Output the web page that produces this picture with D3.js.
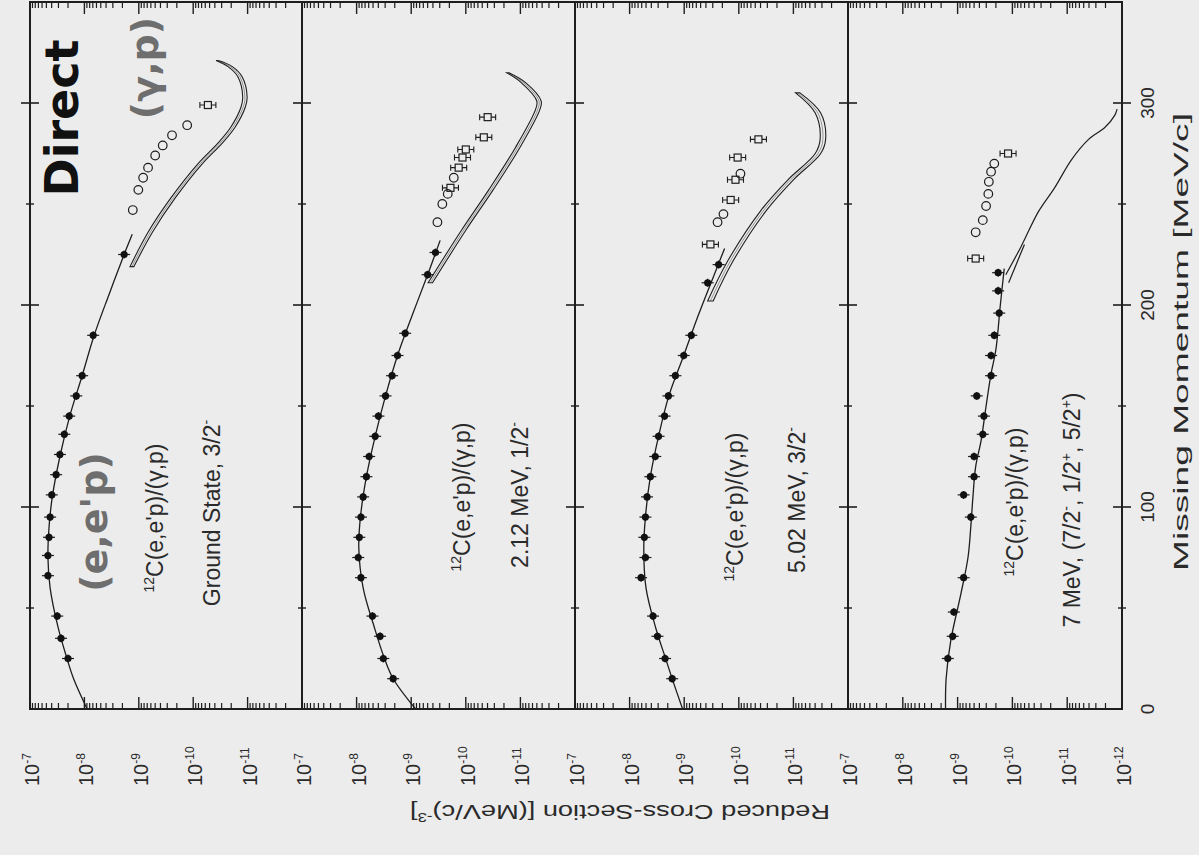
<!DOCTYPE html>
<html>
<head>
<meta charset="utf-8">
<script src="https://cdn.jsdelivr.net/npm/d3@7"></script>
<style>
    html, body { margin: 0; padding: 0; background: #ececec; }
    svg { display: block; }
    text { font-family: "Liberation Sans", Arial, sans-serif; fill: #2a2a2a; }
</style>
</head>
<body>
<div id="chart"></div>
<script>
// momentum axis (vertical in the picture)
const momentumTicks = [0, 100, 200, 300];
const momentumMinor = [50, 150, 250];

// cross-section decades (horizontal, one set per panel)
const decadeValues = [1e-7, 1e-8, 1e-9, 1e-10, 1e-11, 1e-12];
const decadeExps = ["-7", "-8", "-9", "-10", "-11", "-12"];

// panel captions
const reactionLabel = "C(e,e'p)/(γ,p)";
const stateLabels = [
    [["Ground State, 3/2", 0], ["-", 1]],
    [["2.12 MeV, 1/2", 0], ["-", 1]],
    [["5.02 MeV, 3/2", 0], ["-", 1]],
    [["7 MeV, (7/2", 0], ["-", 1], [", 1/2", 0], ["+", 1], [", 5/2", 0], ["+", 1], [")", 0]]
];

// (e,e'p) data: [missing momentum, reduced cross-section]
const eep1 = [[25, 2.0e-8], [35, 2.69e-8], [46, 3.16e-8], [66, 4.68e-8], [76, 4.68e-8], [85, 4.47e-8],
    [95, 4.27e-8], [106, 3.98e-8], [116, 3.31e-8], [126, 2.82e-8], [136, 2.34e-8], [145, 1.9e-8],
    [155, 1.41e-8], [165, 1.10e-8], [185, 6.9e-9], [225, 1.86e-9]];
const eep2 = [[15, 2.14e-9], [25, 3.24e-9], [36, 3.72e-9], [46, 5.13e-9], [65, 8.32e-9], [75, 9.33e-9],
    [85, 8.91e-9], [95, 8.32e-9], [105, 7.59e-9], [115, 6.61e-9], [125, 5.89e-9], [135, 4.57e-9],
    [145, 3.98e-9], [155, 2.95e-9], [165, 2.24e-9], [175, 1.78e-9], [186, 1.29e-9], [215, 5.0e-10], [226, 3.59e-10]];
const eep3 = [[15, 1.66e-9], [25, 2.24e-9], [36, 3.09e-9], [46, 3.72e-9], [65, 6.17e-9], [75, 5.13e-9],
    [85, 5.37e-9], [95, 5.13e-9], [105, 4.79e-9], [115, 4.17e-9], [125, 3.39e-9], [135, 2.95e-9],
    [145, 2.29e-9], [155, 1.95e-9], [165, 1.45e-9], [175, 1.02e-9], [185, 7.41e-10], [211, 3.72e-10], [220, 2.34e-10]];
const eep4 = [[25, 1.51e-9], [36, 1.23e-9], [48, 1.17e-9], [65, 7.76e-10], [95, 5.75e-10], [106, 7.76e-10],
    [115, 5.01e-10], [125, 5.01e-10], [136, 3.47e-10], [145, 3.31e-10], [155, 4.47e-10], [165, 2.45e-10],
    [175, 2.45e-10], [185, 2.14e-10], [196, 1.74e-10], [207, 1.82e-10], [216, 1.82e-10]];

// (e,e'p) fit curves
const eepFit1 = [[0, 8.9e-9], [15, 1.58e-8], [25, 2.09e-8], [40, 3.02e-8], [60, 4.27e-8], [75, 4.68e-8],
    [90, 4.47e-8], [105, 3.89e-8], [125, 2.82e-8], [145, 1.86e-8], [165, 1.10e-8], [185, 6.61e-9],
    [205, 3.55e-9], [225, 1.86e-9], [235, 1.32e-9]];
const eepFit2 = [[0, 8.3e-10], [15, 2.14e-9], [25, 3.09e-9], [40, 4.68e-9], [60, 7.59e-9], [80, 9.12e-9],
    [95, 8.51e-9], [115, 6.61e-9], [135, 4.57e-9], [155, 2.95e-9], [175, 1.78e-9], [195, 9.55e-10],
    [215, 5.0e-10], [232, 2.95e-10]];
const eepFit3 = [[0, 1.07e-9], [15, 1.66e-9], [25, 2.19e-9], [40, 3.31e-9], [60, 5.01e-9], [80, 5.5e-9],
    [95, 5.13e-9], [115, 4.17e-9], [135, 2.95e-9], [155, 1.91e-9], [175, 1.02e-9], [195, 5.5e-10],
    [215, 2.82e-10], [228, 1.82e-10]];
const eepFit4 = [[0, 1.66e-9], [15, 1.62e-9], [34, 1.33e-9], [57, 8.71e-10], [75, 6.46e-10], [90, 5.75e-10],
    [105, 5.25e-10], [120, 4.68e-10], [133, 3.72e-10], [150, 3.02e-10], [166, 2.45e-10], [178, 2.0e-10],
    [200, 1.66e-10], [218, 1.41e-10]];

// (γ,p) data: [missing momentum, reduced cross-section, symbol]
const gp1 = [[247, 1.29e-9, "o"], [257, 1.02e-9, "o"], [263, 8.32e-10, "o"], [268, 6.76e-10, "o"],
    [274, 5.0e-10, "o"], [279, 3.63e-10, "o"], [284, 2.45e-10, "o"], [289, 1.29e-10, "o"], [299, 5.37e-11, "s"]];
const gp2 = [[241, 3.31e-10, "o"], [250, 2.69e-10, "o"], [255, 2.14e-10, "o"], [258, 1.91e-10, "s"],
    [263, 1.66e-10, "o"], [268, 1.35e-10, "s"], [273, 1.15e-10, "s"], [277, 1.0e-10, "s"], [283, 4.68e-11, "s"], [293, 3.98e-11, "s"]];
const gp3 = [[230, 3.31e-10, "s"], [241, 2.45e-10, "o"], [245, 1.91e-10, "o"], [252, 1.41e-10, "s"],
    [262, 1.15e-10, "s"], [265, 9.33e-11, "o"], [273, 1.05e-10, "s"], [282, 4.37e-11, "s"]];
const gp4 = [[223, 4.68e-10, "s"], [236, 4.68e-10, "o"], [242, 3.47e-10, "o"], [249, 3.02e-10, "o"],
    [255, 2.75e-10, "o"], [261, 2.69e-10, "o"], [266, 2.45e-10, "o"], [270, 2.14e-10, "o"], [275, 1.2e-10, "s"]];

// (γ,p) calculation bands: [missing momentum, edge A, edge B]
const gpBand1 = [[219, 1.45e-9, 1.23e-9], [236, 6.76e-10, 5.62e-10], [253, 2.57e-10, 2.14e-10],
    [270, 8.13e-11, 6.76e-11], [280, 3.55e-11, 2.95e-11], [288, 2.04e-11, 1.70e-11], [298, 1.32e-11, 1.10e-11],
    [303, 1.23e-11, 1.02e-11], [313, 1.51e-11, 1.26e-11], [318, 2.29e-11, 1.91e-11], [321, 3.80e-11, 3.47e-11]];
const gpBand2 = [[211, 4.9e-10, 4.07e-10], [237, 1.2e-10, 1.0e-10], [257, 3.8e-11, 3.16e-11],
    [278, 1.23e-11, 1.02e-11], [297, 5.25e-12, 4.37e-12], [301, 5.01e-12, 4.17e-12], [310, 9.55e-12, 7.94e-12],
    [315, 1.78e-11, 1.62e-11]];
const gpBand3 = [[202, 3.72e-10, 2.95e-10], [222, 1.58e-10, 1.26e-10], [247, 3.89e-11, 3.09e-11],
    [262, 1.26e-11, 1.0e-11], [275, 3.98e-12, 3.16e-12], [282, 3.24e-12, 2.57e-12], [295, 3.98e-12, 3.16e-12],
    [305, 9.12e-12, 7.59e-12]];
const gpFit4 = [[215, 1.32e-10], [229, 6.92e-11], [246, 3.39e-11], [258, 1.70e-11], [272, 8.32e-12],
    [282, 4.07e-12], [288, 2.04e-12], [294, 1.35e-12], [297, 1.23e-12]];
const gpFit4b = [[211, 1.17e-10], [230, 6.03e-11]];

// size of the picture
const svgWidth = 1199;
const svgHeight = 855;
const panelEdges = [30, 302, 575, 848, 1122];
const plotTop = 2;
const plotBottom = 709;

function drawChart() {
    const panels = [
        { eep: eep1, fit: eepFit1, gp: gp1, band: gpBand1, lines: [] },
        { eep: eep2, fit: eepFit2, gp: gp2, band: gpBand2, lines: [] },
        { eep: eep3, fit: eepFit3, gp: gp3, band: gpBand3, lines: [] },
        { eep: eep4, fit: eepFit4, gp: gp4, band: null, lines: [gpFit4, gpFit4b] }
    ];

    let svgBase = d3.select("#chart").append("svg")
        .attr("width", svgWidth)
        .attr("height", svgHeight);

    svgBase.append("rect")
        .attr("width", svgWidth)
        .attr("height", svgHeight)
        .attr("fill", "#ececec");

    // momentum runs bottom -> top
    let y = d3.scaleLinear()
        .domain([0, 350])
        .range([plotBottom, plotTop]);

    const lineColor = "#1e1e1e";

    // rotated text helper (reads bottom -> top), parts = [text, isSuperscript]
    function rotText(parent, x, yc, parts, size, anchor) {
        let t = parent.append("text")
            .attr("transform", "translate(" + x + "," + yc + ") rotate(-90)")
            .attr("text-anchor", anchor || "middle")
            .attr("dy", "0.35em")
            .style("font-size", size + "px");
        let shift = 0;
        let rise = Math.round(size * 0.4);
        parts.forEach(p => {
            let target = p[1] ? -rise : 0;
            let ts = t.append("tspan").text(p[0]);
            if (target !== shift) ts.attr("dy", (target - shift) + "px");
            if (p[1]) ts.style("font-size", Math.round(size * 0.62) + "px");
            shift = target;
        });
        return t;
    }

    panels.forEach((panel, i) => {
        let x0 = panelEdges[i];
        let x1 = panelEdges[i + 1];
        let x = d3.scaleLog()
            .domain([1e-7, 1e-12])
            .range([x0, x1]);

        let g = svgBase.append("g").attr("class", "panel");

        // log ticks top and bottom
        let minor = [];
        for (let k = -12; k < -7; k++) {
            for (let m = 2; m <= 9; m++) minor.push(m * Math.pow(10, k));
        }
        [[plotTop, 1], [plotBottom, -1]].forEach(edge => {
            g.selectAll(null).data(minor).enter().append("line")
                .attr("x1", d => x(d)).attr("x2", d => x(d))
                .attr("y1", edge[0]).attr("y2", edge[0] + edge[1] * 6)
                .attr("stroke", lineColor).attr("stroke-width", 1.2);
            g.selectAll(null).data(decadeValues).enter().append("line")
                .attr("x1", d => x(d)).attr("x2", d => x(d))
                .attr("y1", edge[0]).attr("y2", edge[0] + edge[1] * 12)
                .attr("stroke", lineColor).attr("stroke-width", 1.4);
        });

        // decade labels
        let shown = i < 3 ? decadeValues.slice(0, 5) : decadeValues;
        shown.forEach((v, j) => {
            rotText(svgBase, x(v) + 2, 786, [["10", 0], [decadeExps[j], 1]], 20, "start");
        });

        // (γ,p) calculation band
        if (panel.band) {
            g.append("path")
                .datum(panel.band)
                .attr("fill", "none")
                .attr("stroke", lineColor)
                .attr("stroke-width", 1.1)
                .attr("d", d3.area()
                    .y(d => y(d[0]))
                    .x0(d => x(d[1]))
                    .x1(d => x(d[2]))
                    .curve(d3.curveCatmullRom));
            g.append("path")
                .datum(panel.band)
                .attr("fill", "none")
                .attr("stroke", "#555")
                .attr("stroke-width", 0.6)
                .attr("d", d3.line()
                    .y(d => y(d[0]))
                    .x(d => (x(d[1]) + x(d[2])) / 2)
                    .curve(d3.curveCatmullRom));
        }
        panel.lines.forEach(ln => {
            g.append("path")
                .datum(ln)
                .attr("fill", "none")
                .attr("stroke", lineColor)
                .attr("stroke-width", 1.2)
                .attr("d", d3.line()
                    .y(d => y(d[0]))
                    .x(d => x(d[1]))
                    .curve(d3.curveCatmullRom));
        });

        // (e,e'p) fit
        g.append("path")
            .datum(panel.fit)
            .attr("fill", "none")
            .attr("stroke", lineColor)
            .attr("stroke-width", 1.3)
            .attr("d", d3.line()
                .y(d => y(d[0]))
                .x(d => x(d[1]))
                .curve(d3.curveCatmullRom));

        // (e,e'p) points
        let pts = g.selectAll(".eep").data(panel.eep).enter().append("g")
            .attr("class", "eep")
            .attr("transform", d => "translate(" + x(d[1]) + "," + y(d[0]) + ")");
        pts.append("line").attr("x1", -6).attr("x2", 6)
            .attr("stroke", lineColor).attr("stroke-width", 1.2);
        pts.append("line").attr("y1", -4).attr("y2", 4)
            .attr("stroke", lineColor).attr("stroke-width", 1.2);
        pts.append("circle").attr("r", 3.6).attr("fill", "#111");

        // (γ,p) points
        let gps = g.selectAll(".gp").data(panel.gp).enter().append("g")
            .attr("class", "gp")
            .attr("transform", d => "translate(" + x(d[1]) + "," + y(d[0]) + ")");
        gps.filter(d => d[2] === "o").append("circle")
            .attr("r", 4.3)
            .attr("fill", "none")
            .attr("stroke", lineColor)
            .attr("stroke-width", 1.2);
        let sq = gps.filter(d => d[2] === "s");
        sq.append("rect")
            .attr("x", -3.5).attr("y", -3.5)
            .attr("width", 7).attr("height", 7)
            .attr("fill", "none")
            .attr("stroke", lineColor)
            .attr("stroke-width", 1.2);
        sq.append("path")
            .attr("d", "M-8,-3V3M-8,0H-3.5M3.5,0H8M8,-3V3")
            .attr("fill", "none")
            .attr("stroke", lineColor)
            .attr("stroke-width", 1.1);
    });

    // frame and panel dividers
    svgBase.append("rect")
        .attr("x", panelEdges[0]).attr("y", plotTop)
        .attr("width", panelEdges[4] - panelEdges[0])
        .attr("height", plotBottom - plotTop)
        .attr("fill", "none")
        .attr("stroke", lineColor)
        .attr("stroke-width", 2);
    panelEdges.slice(1, 4).forEach(px => {
        svgBase.append("line")
            .attr("x1", px).attr("x2", px)
            .attr("y1", plotTop).attr("y2", plotBottom)
            .attr("stroke", lineColor)
            .attr("stroke-width", 2);
    });

    // momentum ticks on every vertical line
    panelEdges.forEach(px => {
        svgBase.selectAll(null).data(momentumTicks.slice(1)).enter().append("line")
            .attr("x1", px - 9).attr("x2", px + 9)
            .attr("y1", d => y(d)).attr("y2", d => y(d))
            .attr("stroke", lineColor).attr("stroke-width", 1.6);
        svgBase.selectAll(null).data(momentumMinor).enter().append("line")
            .attr("x1", px - 4).attr("x2", px + 4)
            .attr("y1", d => y(d)).attr("y2", d => y(d))
            .attr("stroke", lineColor).attr("stroke-width", 1.4);
    });

    // momentum labels
    momentumTicks.forEach(v => {
        rotText(svgBase, 1147, y(v), [[String(v), 0]], 19);
    });

    // axis titles
    rotText(svgBase, 1181, 342, [["Missing Momentum [MeV/c]", 0]], 21)
        .attr("textLength", 458)
        .attr("lengthAdjust", "spacingAndGlyphs");

    let yt = svgBase.append("text")
        .attr("transform", "translate(620,812) rotate(180)")
        .attr("text-anchor", "middle")
        .attr("dy", "0.35em")
        .attr("textLength", 420)
        .attr("lengthAdjust", "spacingAndGlyphs")
        .style("font-size", "21px");
    yt.append("tspan").text("Reduced Cross-Section [(MeV/c)");
    yt.append("tspan").attr("dy", "-8px").style("font-size", "13px").text("-3");
    yt.append("tspan").attr("dy", "8px").text("]");

    // panel captions
    const capPos = [[163, 518, 212, 513], [470, 497, 520, 495], [743, 507, 797, 500], [1023, 502, 1072, 510]];
    capPos.forEach((c, i) => {
        rotText(svgBase, c[0], c[1], [["12", 1], [reactionLabel, 0]], 23);
        rotText(svgBase, c[2], c[3], stateLabels[i], 23);
    });

    // handwritten notes
    rotText(svgBase, 62, 118, [["Direct", 0]], 46)
        .style("font-family", "DejaVu Sans")
        .style("font-weight", "bold")
        .style("fill", "#111");
    rotText(svgBase, 145, 68, [["(γ,p)", 0]], 38)
        .style("font-family", "DejaVu Sans")
        .style("font-weight", "bold")
        .style("fill", "#6e6e6e");
    rotText(svgBase, 94, 522, [["(e,e'p)", 0]], 38)
        .style("font-family", "DejaVu Sans")
        .style("font-weight", "bold")
        .style("fill", "#6e6e6e");
}

drawChart();
</script>
</body>
</html>
